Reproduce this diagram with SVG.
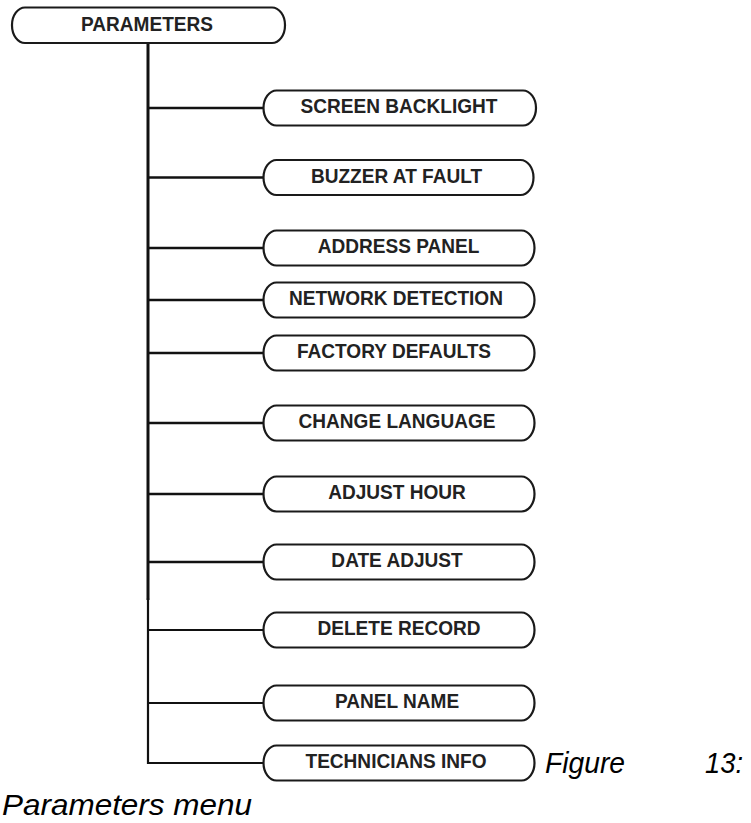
<svg xmlns="http://www.w3.org/2000/svg" width="751" height="823" viewBox="0 0 751 823">
<style>
.node rect{fill:#fff;stroke:#1a1a1a;stroke-width:2.2}
.node text{font-family:"Liberation Sans",Arial,sans-serif;font-weight:bold;font-size:20.5px;fill:#222;text-anchor:middle}
.conn line,.conn path{stroke:#111;fill:none}
.cap{font-family:"Liberation Sans",Arial,sans-serif;font-style:italic;font-size:29px;fill:#000}
</style>
<rect width="751" height="823" fill="#fff"/>
<g class="conn" id="connectors">
<line x1="148" y1="43" x2="148" y2="600" stroke-width="3"/>
<path d="M148,598 V763 H264" stroke-width="2.2"/>
<line x1="148" y1="108" x2="264" y2="108" stroke-width="2.4"/>
<line x1="148" y1="177.5" x2="264" y2="177.5" stroke-width="2.4"/>
<line x1="148" y1="248" x2="264" y2="248" stroke-width="2.4"/>
<line x1="148" y1="300" x2="264" y2="300" stroke-width="2.4"/>
<line x1="148" y1="353" x2="264" y2="353" stroke-width="2.4"/>
<line x1="148" y1="423" x2="264" y2="423" stroke-width="2.4"/>
<line x1="148" y1="494" x2="264" y2="494" stroke-width="2.4"/>
<line x1="148" y1="562" x2="264" y2="562" stroke-width="2.4"/>
<line x1="148" y1="630" x2="264" y2="630" stroke-width="2.2"/>
<line x1="148" y1="703" x2="264" y2="703" stroke-width="2.2"/>
</g>
<g class="node" id="n-parameters"><rect x="12" y="7.5" width="273" height="35.5" rx="13" ry="17.5"/><text transform="matrix(0.93 0 0 1 147 30.5)">PARAMETERS</text></g>
<g class="node" id="n-screen"><rect x="263.5" y="90.5" width="272.5" height="35" rx="13" ry="17.5"/><text transform="matrix(0.93 0 0 1 399 113.3)">SCREEN BACKLIGHT</text></g>
<g class="node" id="n-buzzer"><rect x="263.5" y="160" width="270" height="35" rx="13" ry="17.5"/><text transform="matrix(0.93 0 0 1 396.5 182.8)">BUZZER AT FAULT</text></g>
<g class="node" id="n-address"><rect x="263.5" y="230.5" width="271" height="35" rx="13" ry="17.5"/><text transform="matrix(0.93 0 0 1 398.5 253.3)">ADDRESS PANEL</text></g>
<g class="node" id="n-network"><rect x="263.5" y="282.5" width="271" height="35" rx="13" ry="17.5"/><text transform="matrix(0.93 0 0 1 396 305.3)">NETWORK DETECTION</text></g>
<g class="node" id="n-factory"><rect x="263.5" y="335.5" width="271" height="35" rx="13" ry="17.5"/><text transform="matrix(0.93 0 0 1 394 358.3)">FACTORY DEFAULTS</text></g>
<g class="node" id="n-language"><rect x="263.5" y="405.5" width="271" height="35" rx="13" ry="17.5"/><text transform="matrix(0.93 0 0 1 397 428.3)">CHANGE LANGUAGE</text></g>
<g class="node" id="n-hour"><rect x="263.5" y="476.5" width="271" height="35" rx="13" ry="17.5"/><text transform="matrix(0.93 0 0 1 397 499.3)">ADJUST HOUR</text></g>
<g class="node" id="n-date"><rect x="263.5" y="544.5" width="271" height="35" rx="13" ry="17.5"/><text transform="matrix(0.93 0 0 1 397 567.3)">DATE ADJUST</text></g>
<g class="node" id="n-delete"><rect x="263.5" y="612.5" width="271" height="35" rx="13" ry="17.5"/><text transform="matrix(0.93 0 0 1 399 635.3)">DELETE RECORD</text></g>
<g class="node" id="n-panel"><rect x="263.5" y="685.5" width="271" height="35" rx="13" ry="17.5"/><text transform="matrix(0.93 0 0 1 397 708.3)">PANEL NAME</text></g>
<g class="node" id="n-tech"><rect x="263.5" y="745.5" width="271" height="35" rx="13" ry="17.5"/><text transform="matrix(0.93 0 0 1 396 768.3)">TECHNICIANS INFO</text></g>
<text class="cap"><tspan x="545" y="773" textLength="80" lengthAdjust="spacingAndGlyphs">Figure</tspan><tspan x="705" y="773" textLength="38" lengthAdjust="spacingAndGlyphs">13:</tspan><tspan x="2" y="815" textLength="250" lengthAdjust="spacingAndGlyphs">Parameters menu</tspan></text>
</svg>
